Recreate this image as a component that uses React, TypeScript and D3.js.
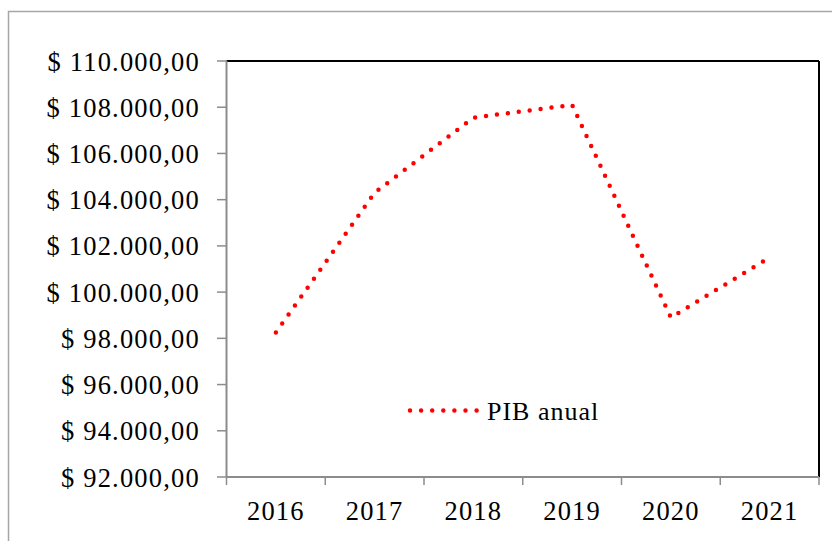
import React from "react";
import * as d3 from "d3";

const years = ["2016", "2017", "2018", "2019", "2020", "2021"];
const pibValues = [98250, 104300, 107550, 108100, 98900, 101500];
const yTicks = [92000, 94000, 96000, 98000, 100000, 102000, 104000, 106000, 108000, 110000];
const seriesName = "PIB anual";

const W = 832;
const H = 541;
const left = 226.5;
const right = 819;
const top = 61;
const bottom = 477;
const FONT = "'Liberation Serif', 'Times New Roman', serif";

function fmt(v: number) {
  const s = d3.format(",.2f")(v); // 110,000.00
  return "$ " + s.replace(/,/g, "#").replace(".", ",").replace(/#/g, ".");
}

export default function App() {
  const x = d3.scaleBand<string>().domain(years).range([left, right]).padding(0);
  const y = d3.scaleLinear().domain([92000, 110000]).range([bottom, top]);
  const line = d3
    .line<number>()
    .x((_, i) => (x(years[i]) as number) + x.bandwidth() / 2)
    .y((d) => y(d));
  const tickXs = years.map((yr) => x(yr) as number).concat([right]);

  return (
    <svg
      width={W}
      height={H}
      style={{ position: "absolute", left: 0, top: 0, background: "#fff" }}
    >
      <rect x={0} y={0} width={W} height={H} fill="#fff" />
      <rect x={8.5} y={11.5} width={1000} height={1000} fill="none" stroke="#a6a6a6" strokeWidth={1.5} />
      {/* plot frame */}
      <line x1={left} x2={right} y1={top} y2={top} stroke="#000" strokeWidth={2} />
      <line x1={right} x2={right} y1={top} y2={bottom} stroke="#000" strokeWidth={2} />
      <line x1={left} x2={left} y1={top} y2={bottom} stroke="#8c8c8c" strokeWidth={2} />
      <line x1={left} x2={right} y1={bottom} y2={bottom} stroke="#8c8c8c" strokeWidth={2} />
      {/* y ticks */}
      {yTicks.map((t) => (
        <g key={t}>
          <line x1={217} x2={left} y1={y(t)} y2={y(t)} stroke="#8c8c8c" strokeWidth={1.5} />
          <text
            x={200}
            y={y(t)}
            dy="0.36em"
            textAnchor="end"
            fontFamily={FONT}
            fontSize={26.5}
            letterSpacing={1.2}
            fill="#000"
          >
            {fmt(t)}
          </text>
        </g>
      ))}
      {/* x ticks */}
      {tickXs.map((tx, i) => (
        <line key={i} x1={tx} x2={tx} y1={bottom} y2={bottom + 8} stroke="#8c8c8c" strokeWidth={1.5} />
      ))}
      {years.map((yr) => (
        <text
          key={yr}
          x={(x(yr) as number) + x.bandwidth() / 2}
          y={520}
          textAnchor="middle"
          fontFamily={FONT}
          fontSize={26.5}
          letterSpacing={1.2}
          fill="#000"
        >
          {yr}
        </text>
      ))}
      {/* series */}
      <path
        d={line(pibValues) || ""}
        fill="none"
        stroke="#ff0000"
        strokeWidth={4.5}
        strokeLinecap="round"
        strokeDasharray="0 11"
      />
      {/* legend */}
      <line
        x1={410}
        x2={478}
        y1={410.5}
        y2={410.5}
        stroke="#ff0000"
        strokeWidth={4.5}
        strokeLinecap="round"
        strokeDasharray="0 11.1"
      />
      <text x={487} y={410.5} dy="0.36em" fontFamily={FONT} fontSize={26} letterSpacing={1} fill="#000">
        {seriesName}
      </text>
    </svg>
  );
}
